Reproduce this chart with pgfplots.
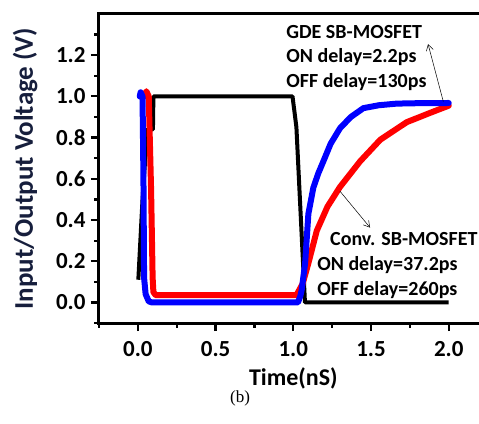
\documentclass[border=0pt]{standalone}
\usepackage{fontspec}
\setmainfont{Carlito}
\newfontfamily\serifb{Liberation Serif}
\usepackage{pgfplots}
\pgfplotsset{compat=1.18}
\usetikzlibrary{arrows.meta}
\definecolor{lblnavy}{RGB}{22,30,60}
\begin{document}
\begin{tikzpicture}
\clip (-99pt,-100pt) rectangle (380pt,323pt);
\begin{axis}[
  at={(0pt,0pt)}, anchor=south west,
  scale only axis, width=388.6pt, height=309pt,
  xmin=-0.25, xmax=2.25, ymin=-0.1, ymax=1.4,
  clip=false,
  axis line style={line width=3pt},
  every tick/.style={line width=2.2pt, black},
  tick align=outside,
  xtick pos=left, ytick pos=left,
  major tick length=8pt, minor tick length=4.5pt,
  xtick={0,0.5,1.0,1.5,2.0},
  minor xtick={-0.25,0.25,0.75,1.25,1.75},
  ytick={0,0.2,0.4,0.6,0.8,1.0,1.2},
  minor ytick={-0.1,0.1,0.3,0.5,0.7,0.9,1.1,1.3},
  /pgf/number format/assume math mode=true,
  /pgf/number format/.cd, fixed, fixed zerofill, precision=1, /pgfplots/.cd,
  ticklabel style={font=\fontsize{23}{25}\selectfont\bfseries},
  xticklabel style={yshift=-7pt},
  yticklabel style={xshift=-2pt},
  xlabel={Time(nS)},
  ylabel={Input/Output Voltage (V)},
  xlabel style={font=\fontsize{24}{26}\selectfont\bfseries, at={(axis description cs:0.5,-0.178)}, anchor=center},
  ylabel style={font=\fontsize{27}{29}\selectfont\bfseries, text=lblnavy, at={(axis description cs:-0.19,0.5)}, anchor=center},
]
% input (black)
\addplot[black, line width=4pt, line join=round] coordinates {
(0.003,0.11) (0.03,0.5) (0.06,0.84) (0.097,0.84) (0.10,1.0) (0.995,1.0) (1.02,0.85) (1.075,0.0) (2.0,0.0)
};
% conventional SB-MOSFET output (red)
\addplot[red, line width=6pt, line join=round, line cap=round] coordinates {
(0.04,1.0) (0.055,1.025) (0.07,1.0) (0.085,0.55) (0.095,0.12) (0.10,0.05) (0.115,0.035)
(1.02,0.035) (1.06,0.09) (1.097,0.19) (1.151,0.348) (1.22,0.465) (1.30,0.56)
(1.43,0.685) (1.56,0.79) (1.73,0.875) (1.88,0.92) (2.0,0.955)
};
% GDE SB-MOSFET output (blue)
\addplot[blue, line width=6pt, line join=round, line cap=round] coordinates {
(0.012,1.0) (0.018,1.02) (0.03,1.0) (0.036,0.6) (0.04,0.12) (0.05,0.04) (0.07,0.005) (0.09,0.0)
(1.03,0.0) (1.045,0.03) (1.054,0.06) (1.076,0.19) (1.097,0.43) (1.129,0.557)
(1.16,0.625) (1.194,0.686) (1.24,0.77) (1.301,0.846) (1.37,0.9) (1.451,0.943)
(1.55,0.957) (1.666,0.965) (1.8,0.967) (2.0,0.968)
};
% annotations
\draw[line width=0.5pt, -{Straight Barb[length=6pt,width=7pt]}] (axis cs:1.965,0.975) -- (axis cs:1.867,1.254);
\draw[line width=0.5pt, -{Straight Barb[length=6pt,width=7pt]}] (axis cs:1.30,0.54) -- (axis cs:1.494,0.363);
\node[anchor=west, inner sep=0pt, font=\fontsize{20}{22}\selectfont\bfseries] at (axis cs:0.954,1.312) {GDE SB-MOSFET};
\node[anchor=west, inner sep=0pt, font=\fontsize{20}{22}\selectfont\bfseries] at (axis cs:0.954,1.192) {ON delay=2.2ps};
\node[anchor=west, inner sep=0pt, font=\fontsize{20}{22}\selectfont\bfseries] at (axis cs:0.954,1.071) {OFF delay=130ps};
\node[anchor=west, inner sep=0pt, font=\fontsize{20}{22}\selectfont\bfseries] at (axis cs:1.236,0.31) {Conv. SB-MOSFET};
\node[anchor=west, inner sep=0pt, font=\fontsize{20}{22}\selectfont\bfseries] at (axis cs:1.153,0.18) {ON delay=37.2ps};
\node[anchor=west, inner sep=0pt, font=\fontsize{20}{22}\selectfont\bfseries] at (axis cs:1.153,0.06) {OFF delay=260ps};
\end{axis}
\node[font=\serifb\fontsize{17}{19}\selectfont] at (141pt,-75pt) {(b)};
\end{tikzpicture}
\end{document}
